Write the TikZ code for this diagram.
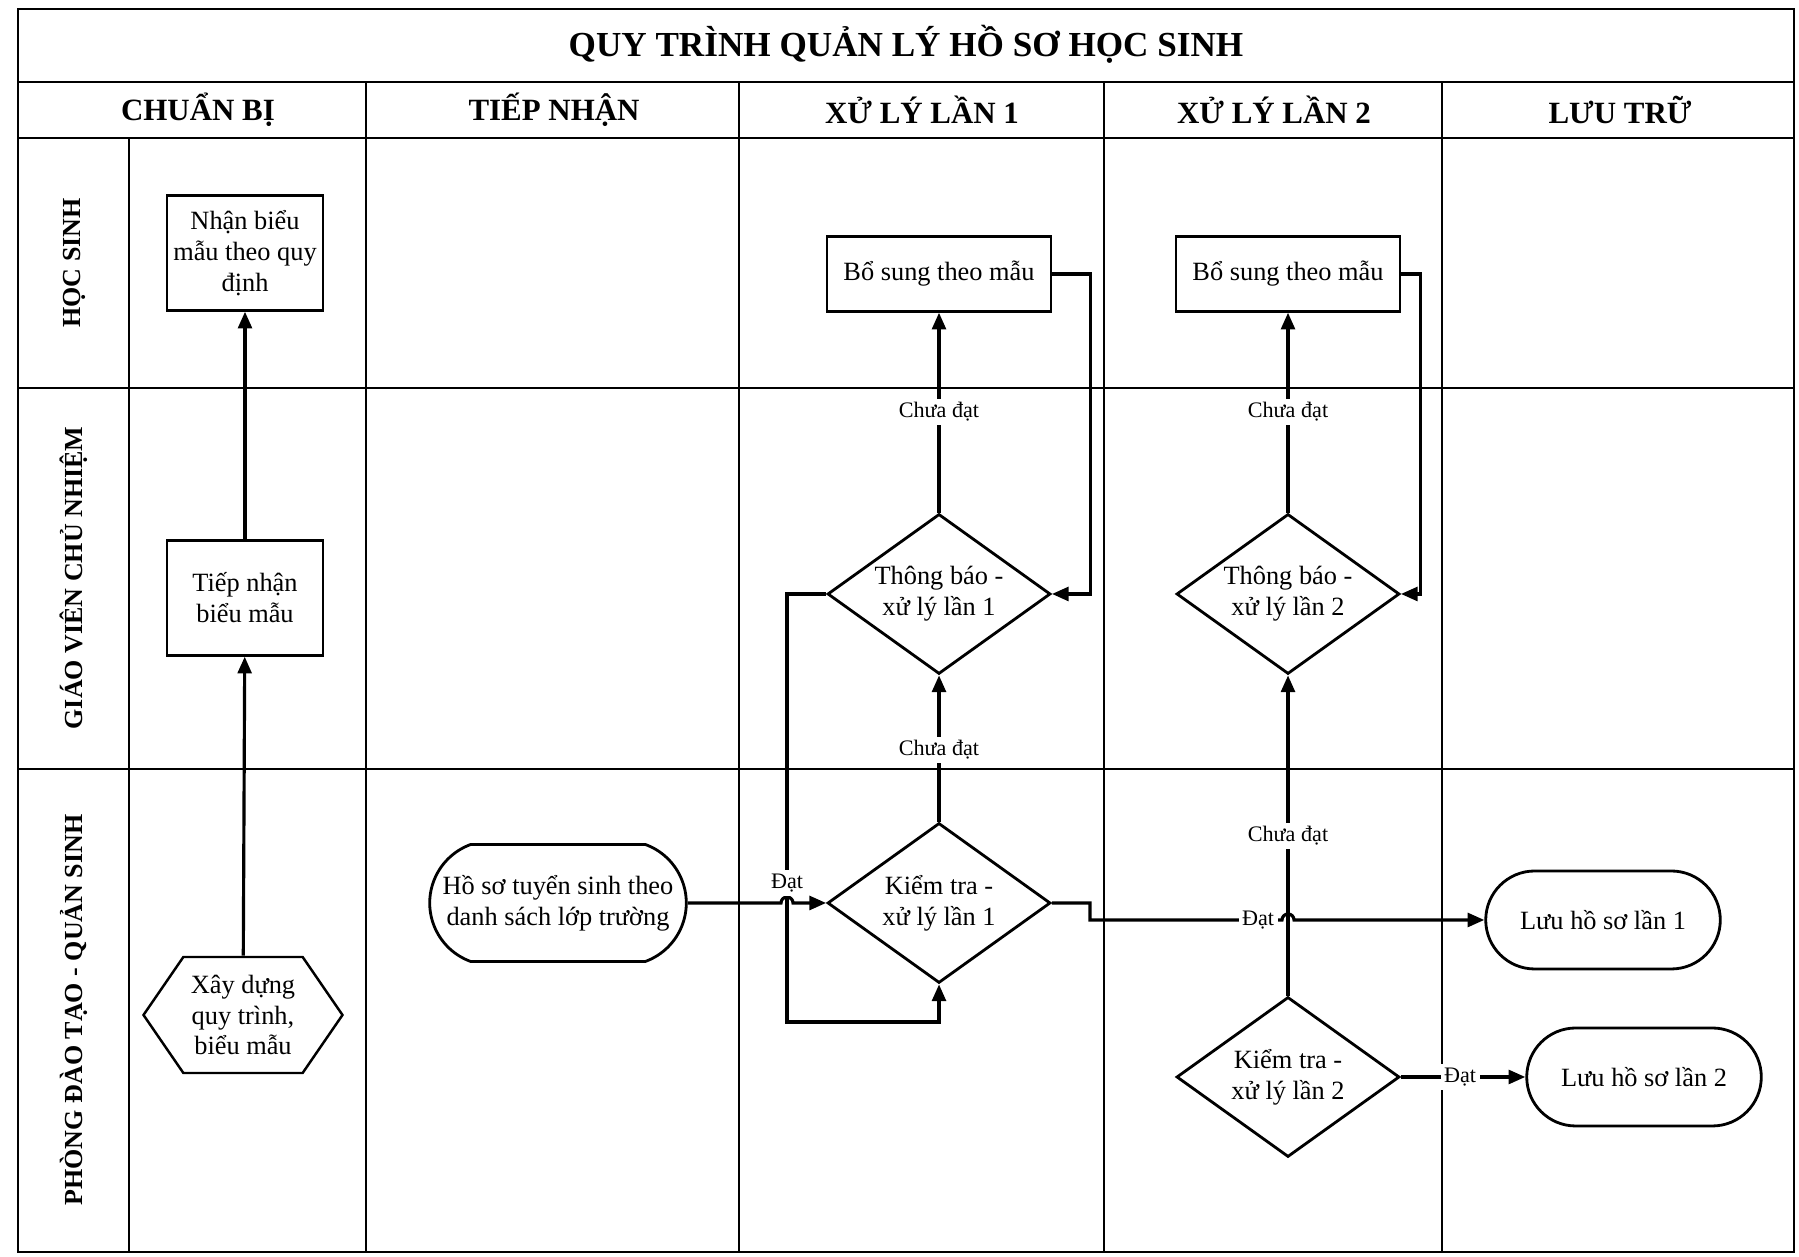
\documentclass[tikz,border=0pt]{standalone}
\usepackage{fontspec}
\setmainfont{Liberation Serif}
\usetikzlibrary{shapes.geometric}
\usetikzlibrary{shapes.misc}
\usetikzlibrary{shapes.symbols}
\usetikzlibrary{arrows.meta}

\begin{document}
\begin{tikzpicture}[
        frameline/.style={line width=0.6pt},
        box/.style={draw, line width=0.7pt, align=center, inner sep=1pt,
                    minimum width=1.56cm, minimum height=1.15cm,
                    font=\fontsize{7.5}{8.8}\selectfont},
        decision/.style={diamond, draw, line width=0.8pt, align=center, inner sep=0pt,
                    shape aspect=1.4, minimum width=2.23cm, minimum height=1.6cm,
                    font=\fontsize{7.5}{8.8}\selectfont},
        terminal/.style={rounded rectangle, draw, line width=0.8pt, align=center,
                    minimum width=2.58cm, minimum height=0.98cm,
                    font=\fontsize{7.5}{8.8}\selectfont},
        prep/.style={signal, signal to=west and east, signal pointer angle=111,
                    draw, line width=0.7pt, align=center, inner sep=0pt,
                    minimum width=1.99cm, minimum height=1.16cm,
                    font=\fontsize{7.5}{8.8}\selectfont},
        lbl/.style={fill=white, inner sep=1pt, font=\fontsize{6.3}{7}\selectfont},
        colhead/.style={font=\fontsize{8.8}{10}\selectfont\bfseries},
        lanehead/.style={rotate=90, font=\fontsize{7.4}{9}\selectfont\bfseries},
        flow/.style={line width=0.9pt, arrows = -{Triangle[angle=45:1.8mm]}}
    ]

            \useasboundingbox (0,0) rectangle (17.99,12.57);

            % khung bang
            \draw[frameline] (0.18,0.05) rectangle (17.94,12.48);
            \draw[frameline] (0.18,11.75) -- (17.94,11.75)
                             (0.18,11.19) -- (17.94,11.19)
                             (0.18,8.69) -- (17.94,8.69)
                             (0.18,4.88) -- (17.94,4.88)
                             (1.29,11.19) -- (1.29,0.05);
            \foreach \x in {3.66,7.39,11.04,14.42}
                \draw[frameline] (\x,11.75) -- (\x,0.05);

            \node (t) [font=\fontsize{10}{11}\selectfont\bfseries] at (9.06,12.13)
            {QUY TRÌNH QUẢN LÝ HỒ SƠ HỌC SINH};

            \path   (1.98,11.47) node (h1) [colhead] {CHUẨN BỊ}
                    (5.54,11.47) node (h2) [colhead] {TIẾP NHẬN}
                    (9.22,11.47) node (h3) [colhead] {XỬ LÝ LẦN 1}
                    (12.74,11.47) node (h4) [colhead] {XỬ LÝ LẦN 2}
                    (16.20,11.47) node (h5) [colhead] {LƯU TRỮ}

                    (0.74,9.94) node (r1) [lanehead] {HỌC SINH}
                    (0.74,6.79) node (r2) [lanehead] {GIÁO VIÊN CHỦ NHIỆM}
                    (0.74,2.47) node (r3) [lanehead] {PHÒNG ĐÀO TẠO - QUẢN SINH};

            \path   (2.45,10.04) node (a) [box] {Nhận biểu\\mẫu theo quy\\định}
                    (2.45,6.59) node (b) [box] {Tiếp nhận\\biểu mẫu}
                    (2.43,2.42) node (c) [prep] {Xây dựng\\quy trình,\\biểu mẫu}
                    (5.58,3.54) node (d) [terminal, minimum width=2.80cm, minimum height=1.17cm,
                                          rounded rectangle arc length=140] {Hồ sơ tuyển sinh theo\\danh sách lớp trường}

                    (9.39,3.54) node (e) [decision] {Kiểm tra -\\xử lý lần 1}
                    (9.39,6.63) node (f) [decision] {Thông báo -\\xử lý lần 1}
                    (9.39,9.83) node (g) [box, minimum width=2.24cm, minimum height=0.75cm] {Bổ sung theo mẫu}

                    (12.88,1.80) node (h) [decision] {Kiểm tra -\\xử lý lần 2}
                    (12.88,6.63) node (i) [decision] {Thông báo -\\xử lý lần 2}
                    (12.88,9.83) node (j) [box, minimum width=2.24cm, minimum height=0.75cm] {Bổ sung theo mẫu}

                    (16.03,3.37) node (k) [terminal] {Lưu hồ sơ lần 1}
                    (16.44,1.80) node (l) [terminal] {Lưu hồ sơ lần 2};

            \coordinate (p1) at (7.87,2.35);
            \coordinate (x1) at (7.87,3.54);
            \coordinate (p2) at (10.90,3.37);
            \coordinate (x2) at (12.88,3.37);

            \draw[flow] (c) -- (b);
            \draw[flow] (b) -- (a);

            \draw[flow] (d.east) -- ([xshift=-0.06cm]x1) arc[start angle=180, end angle=0, radius=0.06cm] -- (e.west);
            \draw[flow] (e) -- (f);
            \draw[flow] (f) -- (g);
            \draw[flow] (g.east) -- ++(0.38,0) |- (f.east);
            \draw[flow] (f.west) -| (p1) -| (e.south);
            \draw[flow] (e.east) -| (p2) -- ([xshift=-0.06cm]x2) arc[start angle=180, end angle=0, radius=0.06cm] -- (k.west);

            \draw[flow] (h) -- (i);
            \draw[flow] (i) -- (j);
            \draw[flow] (j.east) -- ++(0.19,0) |- (i.east);
            \draw[flow] (h) -- (l);

            \path   (9.39,5.07) node (m1) [lbl] {Chưa đạt}
                    (9.39,8.45) node (m2) [lbl] {Chưa đạt}
                    (12.88,4.21) node (m3) [lbl] {Chưa đạt}
                    (12.88,8.45) node (m4) [lbl] {Chưa đạt}
                    (7.87,3.74) node (m5) [lbl] {Đạt}
                    (12.58,3.37) node (m6) [lbl] {Đạt}
                    (14.60,1.80) node (m7) [lbl] {Đạt};

\end{tikzpicture}
\end{document}
